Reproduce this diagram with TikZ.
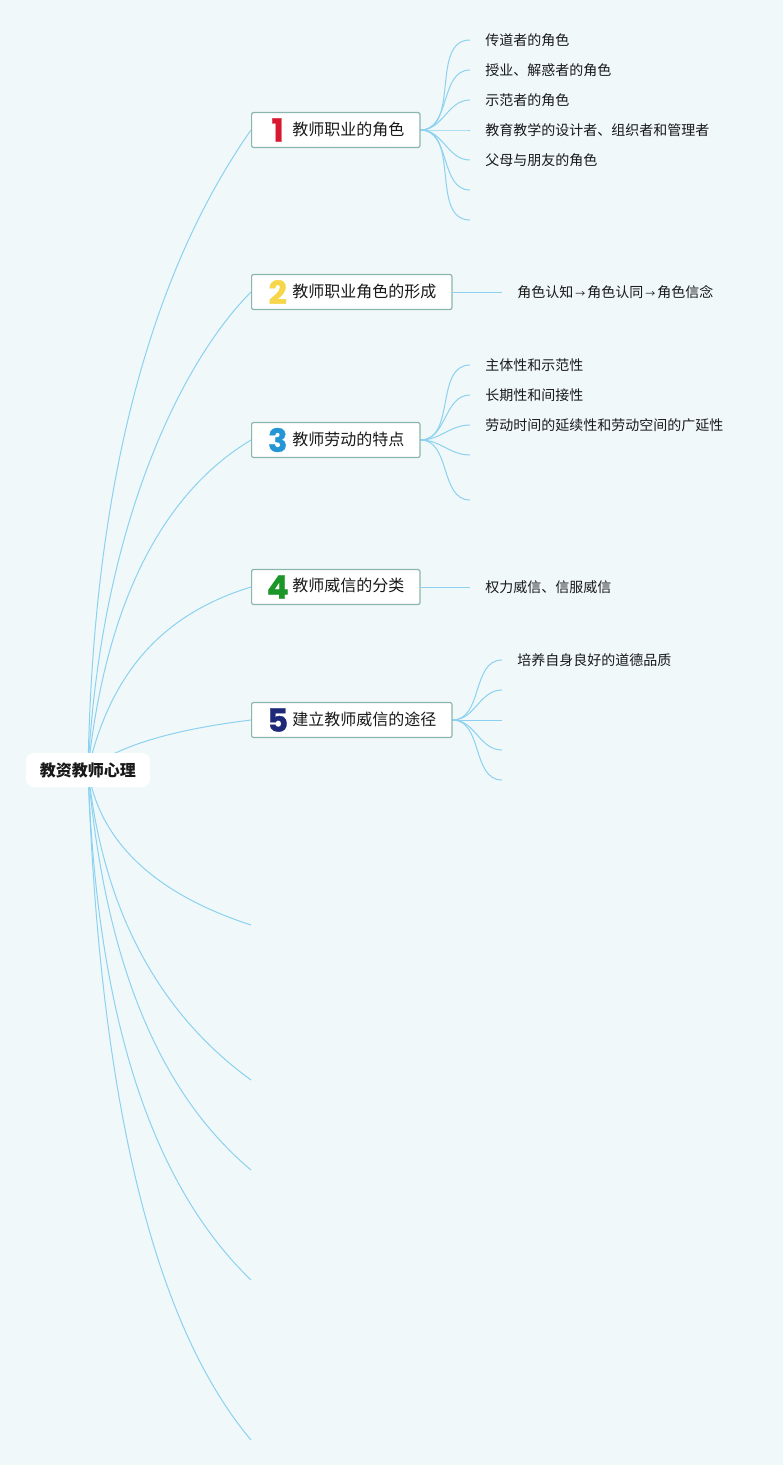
\documentclass[tikz,border=0pt]{standalone}
\usepackage{fontspec}
\setmainfont{Noto Sans CJK SC}
\newfontfamily\numfont{Poppins}[BoldFeatures={FakeBold=1}]
\usetikzlibrary{positioning,backgrounds}

\definecolor{bgcol}{RGB}{240,248,250}
\definecolor{linecol}{RGB}{140,210,240}
\definecolor{boxcol}{RGB}{138,182,174}
\definecolor{txtcol}{RGB}{25,25,25}
\definecolor{numone}{RGB}{216,24,48}
\definecolor{numtwo}{RGB}{246,214,74}
\definecolor{numthree}{RGB}{36,150,214}
\definecolor{numfour}{RGB}{28,150,40}
\definecolor{numfive}{RGB}{30,40,120}

% coloured topic number in front of each main topic
\newcommand{\topicnum}[2]{\raisebox{-5pt}{\makebox[15.75pt]{\numfont\bfseries\fontsize{24}{24}\selectfont\color{#1}#2}}\hspace{3pt}}
% small arrow between the stages
\newcommand{\stagearrow}{\hspace{1.5pt}{\fontsize{7.5}{8}\selectfont →}\hspace{1.5pt}}

\pgfdeclarelayer{canvas}
\pgfsetlayers{canvas,background,main}

\begin{document}
\begin{tikzpicture}[
    x=0.75pt, y=-0.75pt,
    text=txtcol,
    central/.style={fill=white, rounded corners=6pt, minimum width=93pt,
                    minimum height=25.5pt, inner sep=0pt,
                    font=\bfseries\fontsize{12}{14}\selectfont},
    topic/.style={draw=boxcol, fill=white, rounded corners=1.5pt, anchor=west,
                  minimum height=26.25pt, inner xsep=11.75pt, inner ysep=0pt,
                  line width=0.9pt, font=\fontsize{12}{14}\selectfont},
    leaf/.style={anchor=west, inner xsep=11.25pt, inner ysep=1pt,
                 font=\fontsize{10.5}{12}\selectfont},
    branch/.style={draw=linecol, line width=0.75pt},
]

% --- canvas ---
\begin{pgfonlayer}{canvas}
  \fill[bgcol] (0,0) rectangle (783,1465);
\end{pgfonlayer}
\useasboundingbox (0,0) rectangle (783,1465);

% --- central topic ---
\node[central] (root) at (88,770) {教资教师心理};

% --- main topics ---
\node[topic] (n1) at (251,130) {\topicnum{numone}{1}教师职业的角色};
\node[topic] (n2) at (251,292) {\topicnum{numtwo}{2}教师职业角色的形成};
\node[topic] (n3) at (251,440) {\topicnum{numthree}{3}教师劳动的特点};
\node[topic] (n4) at (251,587) {\topicnum{numfour}{4}教师威信的分类};
\node[topic] (n5) at (251,720) {\topicnum{numfive}{5}建立教师威信的途径};

% empty main topics below the centre
\coordinate (e1) at (251,925);
\coordinate (e2) at (251,1080);
\coordinate (e3) at (251,1170);
\coordinate (e4) at (251,1280);
\coordinate (e5) at (251,1440);

% --- subtopics of 1 ---
\node[leaf] (l11) at (470,40)  {传道者的角色};
\node[leaf] (l12) at (470,70)  {授业、解惑者的角色};
\node[leaf] (l13) at (470,100) {示范者的角色};
\node[leaf] (l14) at (470,130) {教育教学的设计者、组织者和管理者};
\node[leaf] (l15) at (470,160) {父母与朋友的角色};
\coordinate (l16) at (470,190);
\coordinate (l17) at (470,220);

% --- subtopic of 2 ---
\node[leaf] (l21) at (502,292) {角色认知\stagearrow 角色认同\stagearrow 角色信念};

% --- subtopics of 3 ---
\node[leaf] (l31) at (470,365) {主体性和示范性};
\node[leaf] (l32) at (470,395) {长期性和间接性};
\node[leaf] (l33) at (470,425) {劳动时间的延续性和劳动空间的广延性};
\coordinate (l34) at (470,455);
\coordinate (l35) at (470,500);

% --- subtopic of 4 ---
\node[leaf] (l41) at (470,587) {权力威信、信服威信};

% --- subtopics of 5 ---
\node[leaf] (l51) at (502,660) {培养自身良好的道德品质};
\coordinate (l52) at (502,690);
\coordinate (l53) at (502,720);
\coordinate (l54) at (502,750);
\coordinate (l55) at (502,780);

\begin{scope}[on background layer]
  % centre -> main topics
  \draw[branch] (root.center) to[out=89,in=235,out looseness=1.08,in looseness=0.7]  (n1.west);
  \draw[branch] (root.center) to[out=87,in=225,out looseness=1.28,in looseness=0.47] (n2.west);
  \draw[branch] (root.center) to[out=84,in=211,out looseness=1.15,in looseness=0.73] (n3.west);
  \draw[branch] (root.center) to[out=77,in=197] (n4.west);
  \draw[branch] (root.center) to[out=40,in=187,out looseness=0.55,in looseness=1.2]  (n5.west);
  \draw[branch] (root.center) to[out=-81,in=162,out looseness=0.82,in looseness=1.16] (e1);
  \draw[branch] (root.center) to[out=-84,in=144,out looseness=1.01,in looseness=0.85] (e2);
  \draw[branch] (root.center) to[out=-85,in=140,out looseness=1.12,in looseness=0.72] (e3);
  \draw[branch] (root.center) to[out=-88,in=136,out looseness=1.16,in looseness=0.67] (e4);
  \draw[branch] (root.center) to[out=-88,in=130,out looseness=1.23,in looseness=0.56] (e5);

  % main topics -> subtopics
  \foreach \t in {l11,l12,l13,l14,l15}
    \draw[branch] (n1.east) to[out=0,in=180] (\t.west);
  \foreach \t in {l16,l17}
    \draw[branch] (n1.east) to[out=0,in=180] (\t);
  \draw[branch] (n2.east) -- (l21.west);
  \foreach \t in {l31,l32,l33}
    \draw[branch] (n3.east) to[out=0,in=180] (\t.west);
  \foreach \t in {l34,l35}
    \draw[branch] (n3.east) to[out=0,in=180] (\t);
  \draw[branch] (n4.east) -- (l41.west);
  \draw[branch] (n5.east) to[out=0,in=180] (l51.west);
  \foreach \t in {l52,l53,l54,l55}
    \draw[branch] (n5.east) to[out=0,in=180] (\t);
\end{scope}

\end{tikzpicture}
\end{document}
